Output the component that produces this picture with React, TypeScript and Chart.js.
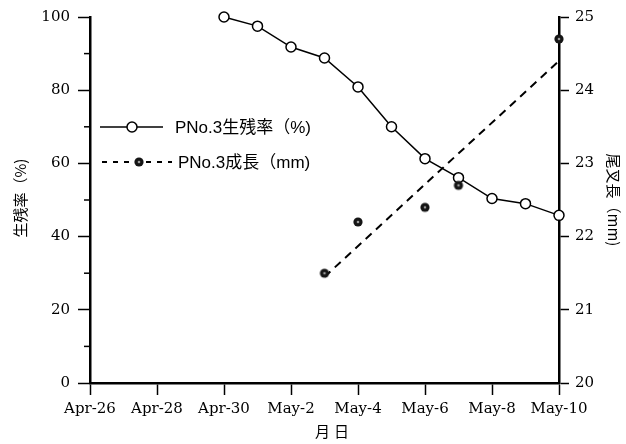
import React, { useEffect, useRef } from 'react';
import { Chart, registerables } from 'chart.js';

Chart.register(...registerables);

const dayLabels = [
  'Apr-26', 'Apr-27', 'Apr-28', 'Apr-29', 'Apr-30',
  'May-1', 'May-2', 'May-3', 'May-4', 'May-5', 'May-6', 'May-7', 'May-8', 'May-9', 'May-10',
];
const tickLabels = ['Apr-26', 'Apr-28', 'Apr-30', 'May-2', 'May-4', 'May-6', 'May-8', 'May-10'];

const survivalDates = ['Apr-30', 'May-1', 'May-2', 'May-3', 'May-4', 'May-5', 'May-6', 'May-7', 'May-8', 'May-9', 'May-10'];
const survivalValues = [100, 97.5, 91.8, 88.8, 80.9, 70.0, 61.3, 56.1, 50.4, 49.0, 45.8];

const growthDates = ['May-3', 'May-4', 'May-6', 'May-7', 'May-10'];
const growthValues = [21.5, 22.2, 22.4, 22.7, 24.7];

const trendDates = ['May-3', 'May-10'];
const trendValues = [21.45, 24.4];

const leftTicks = [0, 20, 40, 60, 80, 100];
const leftMinorTicks = [10, 30, 50, 70, 90];
const rightTicks = [20, 21, 22, 23, 24, 25];

const survivalLabel = 'PNo.3生残率（%)';
const growthLabel = 'PNo.3成長（mm)';
const leftTitle = '生残率（%)';
const rightTitle = '尾叉長（mm)';
const xTitle = '月日';

const TICK_FONT = { family: '"DejaVu Serif", "Liberation Serif", serif', size: 15 };
const SANS = '"Liberation Sans", "Noto Sans CJK JP", sans-serif';
const CJK = '"Noto Sans CJK JP", sans-serif';

function makeGrowthMarker(): HTMLCanvasElement {
  const c = document.createElement('canvas');
  c.width = 12;
  c.height = 12;
  const g = c.getContext('2d')!;
  g.beginPath();
  g.arc(6, 6, 4.6, 0, Math.PI * 2);
  g.fillStyle = '#151515';
  g.fill();
  g.beginPath();
  g.arc(6, 6, 1.3, 0, Math.PI * 2);
  g.fillStyle = '#9a9a9a';
  g.fill();
  return c;
}

const toPoints = (dates: string[], values: number[]) =>
  dates.map((d, i) => ({ x: dayLabels.indexOf(d), y: values[i] }));

export default function App() {
  const ref = useRef<HTMLCanvasElement>(null);

  useEffect(() => {
    document.body.style.margin = '0';
    const marker = makeGrowthMarker();

    const decor = {
      id: 'decor',
      afterDraw(chart: any) {
        const ctx = chart.ctx as CanvasRenderingContext2D;
        const area = chart.chartArea;
        const yScale = chart.scales.y;
        ctx.save();
        ctx.strokeStyle = '#000';
        ctx.lineWidth = 1.5;
        leftMinorTicks.forEach((v) => {
          const py = yScale.getPixelForValue(v);
          ctx.beginPath();
          ctx.moveTo(area.left - 6, py);
          ctx.lineTo(area.left, py);
          ctx.stroke();
        });

        const r1y = 127;
        ctx.lineWidth = 1.5;
        ctx.beginPath();
        ctx.moveTo(100, r1y);
        ctx.lineTo(163, r1y);
        ctx.stroke();
        ctx.beginPath();
        ctx.arc(132, r1y, 5, 0, Math.PI * 2);
        ctx.fillStyle = '#fff';
        ctx.fill();
        ctx.stroke();
        ctx.fillStyle = '#000';
        ctx.font = `17px ${SANS}`;
        ctx.textBaseline = 'middle';
        ctx.textAlign = 'left';
        ctx.fillText(survivalLabel, 175, r1y + 1);

        const r2y = 162;
        ctx.setLineDash([5, 6]);
        ctx.lineWidth = 1.8;
        ctx.beginPath();
        ctx.moveTo(102, r2y);
        ctx.lineTo(172, r2y);
        ctx.stroke();
        ctx.setLineDash([]);
        ctx.drawImage(marker, 139 - 6, r2y - 6);
        ctx.fillText(growthLabel, 178, r2y + 1);

        ctx.font = `15px ${CJK}`;
        ctx.textAlign = 'center';
        ctx.save();
        ctx.translate(20, 198);
        ctx.rotate(-Math.PI / 2);
        ctx.fillText(leftTitle, 0, 0);
        ctx.restore();

        ctx.save();
        ctx.translate(614, 200);
        ctx.rotate(Math.PI / 2);
        ctx.fillText(rightTitle, 0, 0);
        ctx.restore();

        (ctx as any).letterSpacing = '4px';
        ctx.fillText(xTitle, 334, 431);
        (ctx as any).letterSpacing = '0px';
        ctx.restore();
      },
    };

    const chart = new Chart(ref.current!, {
      type: 'line',
      data: {
        datasets: [
          {
            label: growthLabel,
            data: toPoints(growthDates, growthValues),
            yAxisID: 'y1',
            showLine: false,
            pointStyle: marker as any,
            pointRadius: 5,
            clip: false as any,
            order: 0,
          },
          {
            label: survivalLabel,
            data: toPoints(survivalDates, survivalValues),
            yAxisID: 'y',
            borderColor: '#000',
            borderWidth: 1.5,
            pointStyle: 'circle',
            pointRadius: 5,
            pointBorderWidth: 1.5,
            pointBackgroundColor: '#fff',
            pointBorderColor: '#000',
            tension: 0,
            clip: false as any,
            order: 1,
          },
          {
            label: 'trend',
            data: toPoints(trendDates, trendValues),
            yAxisID: 'y1',
            borderColor: '#000',
            borderWidth: 2,
            borderDash: [8, 6],
            pointRadius: 0,
            order: 2,
          },
        ],
      },
      options: {
        animation: false,
        responsive: false,
        layout: { padding: { top: 16, left: 0, right: 0, bottom: 0 } },
        plugins: { legend: { display: false }, tooltip: { enabled: false } },
        scales: {
          x: {
            type: 'linear',
            min: 0,
            max: dayLabels.length - 1,
            afterBuildTicks: (s: any) => {
              s.ticks = tickLabels.map((l) => ({ value: dayLabels.indexOf(l) }));
            },
            afterFit: (s: any) => {
              s.height = 61;
            },
            ticks: {
              color: '#000',
              font: TICK_FONT,
              padding: 5,
              maxRotation: 0,
              autoSkip: false,
              callback: (v: any) => dayLabels[Math.round(Number(v))] ?? '',
            },
            grid: { drawOnChartArea: false, tickLength: 12, color: '#000', tickWidth: 1.5 },
            border: { color: '#000', width: 2.5 },
          },
          y: {
            position: 'left',
            min: 0,
            max: 100,
            afterBuildTicks: (s: any) => {
              s.ticks = leftTicks.map((v) => ({ value: v }));
            },
            afterFit: (s: any) => {
              s.width = 90;
            },
            ticks: { color: '#000', font: TICK_FONT, padding: 8 },
            grid: { drawOnChartArea: false, tickLength: 12, color: '#000', tickWidth: 1.5 },
            border: { color: '#000', width: 2.5 },
          },
          y1: {
            position: 'right',
            min: 20,
            max: 25,
            afterBuildTicks: (s: any) => {
              s.ticks = rightTicks.map((v) => ({ value: v }));
            },
            afterFit: (s: any) => {
              s.width = 67;
            },
            ticks: { color: '#000', font: TICK_FONT, padding: 6 },
            grid: { drawOnChartArea: false, tickLength: 10, color: '#000', tickWidth: 1.5 },
            border: { color: '#000', width: 2.5 },
          },
        },
      },
      plugins: [decor],
    });
    return () => chart.destroy();
  }, []);

  return (
    <div style={{ width: 626, height: 444, background: '#fff' }}>
      <canvas ref={ref} width={626} height={444} />
    </div>
  );
}
